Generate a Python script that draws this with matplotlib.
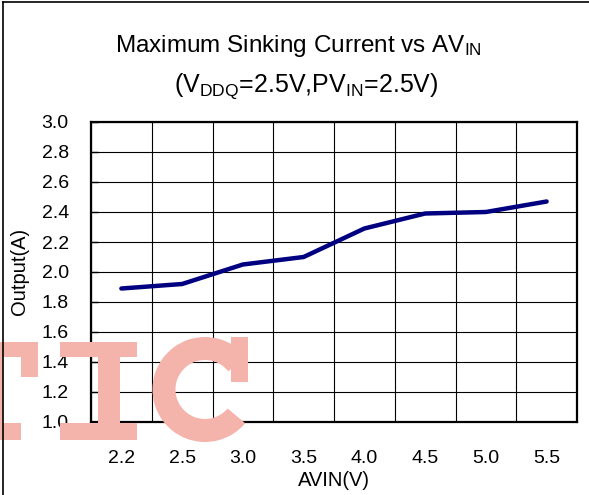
import matplotlib
matplotlib.use("Agg")
import matplotlib.pyplot as plt
from matplotlib.lines import Line2D
from matplotlib.patches import Rectangle, Wedge
from matplotlib.transforms import Affine2D

plt.rcParams['font.family'] = ['Liberation Sans', 'DejaVu Sans']
plt.rcParams['mathtext.default'] = 'regular'

# data
avin_labels = ['2.2', '2.5', '3.0', '3.5', '4.0', '4.5', '5.0', '5.5']
output_a = [1.89, 1.92, 2.05, 2.10, 2.29, 2.39, 2.40, 2.47]
y_ticks = [1.0, 1.2, 1.4, 1.6, 1.8, 2.0, 2.2, 2.4, 2.6, 2.8, 3.0]

W, H = 589, 495
fig = plt.figure(figsize=(W / 100, H / 100), dpi=100)
ax = fig.add_axes([91 / W, 1 - 422 / H, (577 - 91) / W, (422 - 122) / H])

# categories sit between the vertical gridlines, like a spreadsheet chart
xpos = [i + 0.5 for i in range(len(avin_labels))]
ax.plot(xpos, output_a, color='#000080', linewidth=3.2, solid_capstyle='round', zorder=3)

ax.set_xlim(0, len(avin_labels))
ax.set_ylim(1.0, 3.0)
ax.set_yticks(y_ticks)
ax.set_yticklabels([f"{v:.1f}" for v in y_ticks])
ax.set_xticks(xpos)
ax.set_xticklabels(avin_labels)
ax.set_xticks(range(len(avin_labels) + 1), minor=True)

ax.grid(True, axis='y', which='major', color='black', linewidth=0.8)
ax.grid(True, axis='x', which='minor', color='black', linewidth=0.8)
ax.tick_params(axis='y', direction='in', length=5, width=1, labelsize=14, pad=16)
ax.tick_params(axis='x', which='both', length=0, labelsize=14, pad=20)
for s in ax.spines.values():
    s.set_linewidth(1.6)

ax.set_xlabel('AVIN(V)', fontsize=14.5, labelpad=3)
fig.text(20 / W, 1 - 271 / H, 'Output(A)', rotation=90, fontsize=14.5,
         ha='center', va='center')

fig.text(298 / W, 1 - 52 / H, r'Maximum Sinking Current vs AV$_{IN}$',
         fontsize=17.5, ha='center', va='baseline')
fig.text(306 / W, 1 - 92 / H, r'(V$_{DDQ}$=2.5V,PV$_{IN}$=2.5V)',
         fontsize=18, ha='center', va='baseline')

# watermark "TIC", drawn in pixel coords measured from the top-left corner
px = Affine2D().scale(1, -1).translate(0, H) + fig.dpi_scale_trans.frozen().scale(1 / fig.dpi)
wm = '#F4B4AC'
shapes = [
    # T (mostly off the left edge)
    Rectangle((-40, 342), 78, 15),
    Rectangle((21, 342), 17, 35),
    Rectangle((-20, 342), 23, 98),
    Rectangle((-40, 423), 61, 17),
    # I
    Rectangle((60, 342), 77, 15),
    Rectangle((98, 342), 22, 98),
    Rectangle((60, 423), 77, 17),
    # C
    Wedge((205, 389.5), 52.5, 40, 322, width=23),
    Rectangle((231, 337), 17, 45),
]
for p in shapes:
    p.set_transform(px)
    p.set_facecolor(wm)
    p.set_edgecolor('none')
    p.set_zorder(5)
    fig.add_artist(p)

# frame: top and left edges only
fig.add_artist(Line2D([3 / W, 1], [1 - 2 / H, 1 - 2 / H], color='black', linewidth=1.2, zorder=6))
fig.add_artist(Line2D([3 / W, 3 / W], [0, 1 - 2 / H], color='black', linewidth=1.2, zorder=6))

fig.savefig('out.png', dpi=100)
